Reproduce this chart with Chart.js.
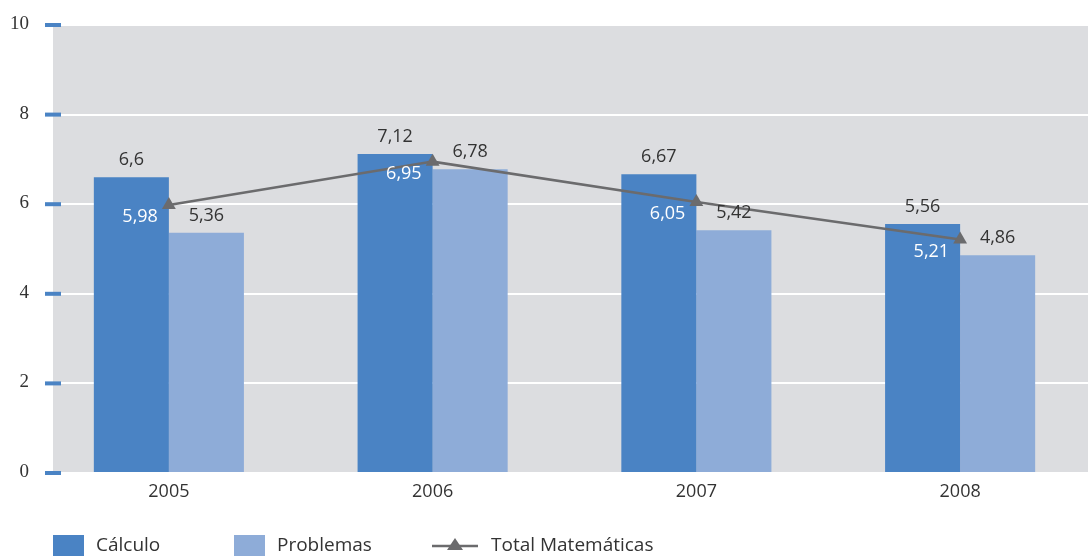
<!DOCTYPE html>
<html>
<head>
<meta charset="utf-8">
<script src="https://cdn.jsdelivr.net/npm/chart.js@4"></script>
<style>
  html, body { margin: 0; padding: 0; background: #fff; overflow: hidden; }
  #wrap { width: 1100px; height: 556px; }
</style>
</head>
<body>
<div id="wrap"><canvas id="myChart" width="1100" height="556"></canvas></div>
<script>
var Years    = ['2005', '2006', '2007', '2008'];
var Calculo  = [6.6, 7.12, 6.67, 5.56];
var Problemas = [5.36, 6.78, 5.42, 4.86];
var Total    = [5.98, 6.95, 6.05, 5.21];
var YTicks   = [0, 2, 4, 6, 8, 10];

var blue = '#4a83c4';
var lightBlue = '#8eacd8';
var grey = '#6b6b6d';
var sans = '"Open Sans", Lato, sans-serif';

function fmt(v) { return String(v).replace('.', ','); }

var decor = {
  id: 'decor',
  beforeDraw: function (chart) {
    var c = chart.ctx, a = chart.chartArea;
    c.save();
    c.fillStyle = '#dcdde0';
    c.fillRect(53, a.top, 1088 - 53, a.bottom - a.top);
    c.restore();
  },
  afterDraw: function (chart) {
    var c = chart.ctx;
    var y = chart.scales.y, x = chart.scales.x;
    c.save();
    // y ticks
    c.font = '19px "Liberation Serif", serif';
    c.textAlign = 'right';
    c.textBaseline = 'middle';
    YTicks.forEach(function (t) {
      var py = y.getPixelForValue(t);
      c.fillStyle = blue;
      c.fillRect(45, py - 2, 16, 4);
      c.fillStyle = '#333';
      c.fillText(String(t), 29, py - 1);
    });
    // x labels
    c.font = '18px ' + sans;
    c.textAlign = 'center';
    c.fillStyle = '#333';
    Years.forEach(function (yr, i) {
      c.fillText(yr, x.getPixelForValue(i), 492);
    });
    // data labels
    c.font = '18px ' + sans;
    c.textBaseline = 'middle';
    [1, 2].forEach(function (di) {
      chart.getDatasetMeta(di).data.forEach(function (el, i) {
        c.fillStyle = '#333';
        c.textAlign = 'center';
        c.fillText(fmt(chart.data.datasets[di].data[i]), el.x, el.y - 17);
      });
    });
    chart.getDatasetMeta(0).data.forEach(function (el, i) {
      c.fillStyle = '#fff';
      c.textAlign = 'right';
      c.fillText(fmt(Total[i]), el.x - 11, el.y + 12);
    });
    // legend
    var ly = 546;
    c.textAlign = 'left';
    c.font = '19px ' + sans;
    c.fillStyle = blue;
    c.fillRect(53, 535, 31, 21);
    c.fillStyle = '#333';
    c.fillText('Cálculo', 96, ly);
    c.fillStyle = lightBlue;
    c.fillRect(234, 535, 31, 21);
    c.fillStyle = '#333';
    c.fillText('Problemas', 277, ly);
    c.strokeStyle = grey;
    c.lineWidth = 2.5;
    c.beginPath();
    c.moveTo(432, ly);
    c.lineTo(478, ly);
    c.stroke();
    c.fillStyle = grey;
    c.beginPath();
    c.moveTo(455, ly - 8);
    c.lineTo(463, ly + 4);
    c.lineTo(447, ly + 4);
    c.closePath();
    c.fill();
    c.fillStyle = '#333';
    c.fillText('Total Matemáticas', 491, ly);
    c.restore();
  }
};

var ctx = document.getElementById('myChart');
var myChart = new Chart(ctx, {
  type: 'bar',
  data: {
    labels: Years,
    datasets: [
      {
        type: 'line',
        data: Total,
        label: 'Total Matemáticas',
        borderColor: grey,
        backgroundColor: grey,
        borderWidth: 2.5,
        pointStyle: 'triangle',
        pointRadius: 8,
        pointBorderWidth: 0,
        fill: false,
        order: 0
      },
      {
        data: Calculo,
        label: 'Cálculo',
        backgroundColor: blue,
        order: 1
      },
      {
        data: Problemas,
        label: 'Problemas',
        backgroundColor: lightBlue,
        order: 1
      }
    ]
  },
  options: {
    responsive: false,
    animation: false,
    layout: { padding: { left: 37, right: 0, top: 25, bottom: 83 } },
    datasets: { bar: { categoryPercentage: 0.569, barPercentage: 1 } },
    plugins: { legend: { display: false }, tooltip: { enabled: false } },
    scales: {
      x: {
        ticks: { display: false },
        grid: { display: false },
        border: { display: false },
        afterFit: function (s) { s.height = 0; }
      },
      y: {
        min: 0,
        max: 10,
        ticks: { display: false, stepSize: 2 },
        grid: { color: '#ffffff', lineWidth: 2, drawTicks: false },
        border: { display: false },
        afterFit: function (s) { s.width = 0; }
      }
    }
  },
  plugins: [decor]
});
</script>
</body>
</html>
